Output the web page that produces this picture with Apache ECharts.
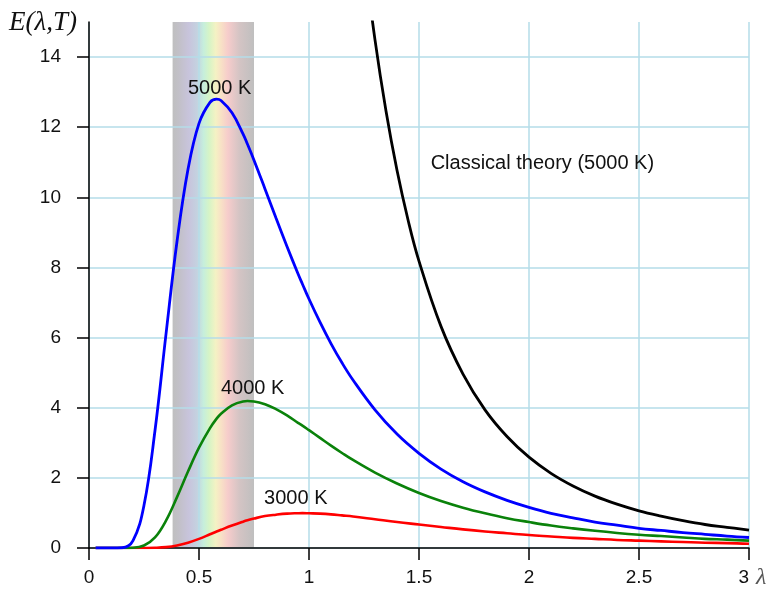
<!DOCTYPE html>
<html>
<head>
<meta charset="utf-8">
<script src="https://cdn.jsdelivr.net/npm/echarts@6/dist/echarts.min.js"></script>
<style>
  html, body { margin: 0; padding: 0; background: #fff; }
  #chart { width: 769px; height: 592px; }
</style>
</head>
<body>
<div id="chart"></div>
<script>
// wavelength (μm) and spectral radiance
const lambda = [0.03, 0.1, 0.15, 0.2, 0.25, 0.3, 0.35, 0.4, 0.45, 0.5, 0.55, 0.58, 0.6, 0.65, 0.7, 0.72, 0.75, 0.8, 0.85, 0.9, 0.95, 0.97, 1.0,
  1.05, 1.1, 1.15, 1.2, 1.3, 1.4, 1.5, 1.6, 1.7, 1.8, 1.9, 2.0, 2.1, 2.2, 2.3, 2.4, 2.5, 2.6, 2.7, 2.8, 2.9, 3.0]
const e5000 = [0, 0, 0.007, 0.21, 1.22, 3.35, 6.10, 8.74, 10.80, 12.11, 12.71, 12.80, 12.76, 12.41, 11.81, 11.52, 11.06, 10.24, 9.41, 8.60, 7.82, 7.53, 7.10,
  6.44, 5.83, 5.28, 4.79, 3.94, 3.25, 2.70, 2.25, 1.89, 1.60, 1.36, 1.16, 0.99, 0.86, 0.74, 0.65, 0.56, 0.50, 0.44, 0.39, 0.34, 0.30]
const e4000 = [0, 0, 0, 0.006, 0.07, 0.30, 0.78, 1.45, 2.18, 2.86, 3.42, 3.69, 3.83, 4.07, 4.18, 4.19, 4.18, 4.10, 3.96, 3.78, 3.57, 3.49, 3.36,
  3.14, 2.92, 2.71, 2.51, 2.15, 1.84, 1.57, 1.34, 1.15, 0.99, 0.85, 0.74, 0.64, 0.56, 0.49, 0.43, 0.38, 0.34, 0.30, 0.26, 0.24, 0.21]
const e3000 = [0, 0, 0, 0, 0.001, 0.006, 0.025, 0.072, 0.152, 0.26, 0.39, 0.47, 0.52, 0.64, 0.75, 0.79, 0.84, 0.91, 0.95, 0.98, 0.992, 0.995, 0.99,
  0.98, 0.96, 0.93, 0.90, 0.82, 0.74, 0.67, 0.60, 0.53, 0.47, 0.42, 0.37, 0.33, 0.29, 0.26, 0.23, 0.21, 0.19, 0.17, 0.15, 0.14, 0.12]

// classical (Rayleigh-Jeans) curve, 5000 K
const lambdaClassical = [1.2, 1.25, 1.3, 1.35, 1.4, 1.45, 1.5, 1.6, 1.7, 1.8, 1.9, 2.0, 2.1, 2.2, 2.3, 2.4, 2.5, 2.6, 2.7, 2.8, 2.9, 3.0]
const eClassical = [19.96, 16.95, 14.49, 12.46, 10.77, 9.36, 8.18, 6.32, 4.96, 3.94, 3.18, 2.59, 2.13, 1.77, 1.48, 1.25,
  1.06, 0.91, 0.78, 0.67, 0.59, 0.51]

// visible spectrum band and axis ticks
const visibleBand = [0.38, 0.75]
const yTicks = [0, 2, 4, 6, 8, 10, 12, 14]

const chart = echarts.init(document.getElementById('chart'))

const font = 'Liberation Sans'
const gridColor = '#b4dde8'

function pairs(xs, ys) {
  return xs.map((x, i) => [x, ys[i]])
}

function curve(name, color, xs, ys, width) {
  return {
    name: name,
    type: 'line',
    data: pairs(xs, ys),
    smooth: 0.4,
    symbol: 'none',
    clip: true,
    lineStyle: { color: color, width: width },
    silent: true,
  }
}

function note(text, x, y, align) {
  return {
    coord: [x, y],
    symbol: 'circle',
    symbolSize: 0,
    label: {
      show: true,
      position: 'inside',
      formatter: text,
      color: '#111',
      fontFamily: font,
      fontSize: 20,
      align: align || 'center',
    },
  }
}

const option = {
  animation: false,
  backgroundColor: '#fff',
  grid: { left: 89, right: 20, top: 22, bottom: 44 },
  xAxis: {
    type: 'value',
    min: 0,
    max: 3,
    interval: 0.5,
    z: 1.5,
    axisLine: { lineStyle: { color: '#000', width: 1.5 } },
    axisTick: { show: true, length: 12, lineStyle: { color: '#000', width: 1.5 } },
    axisLabel: { color: '#111', fontFamily: font, fontSize: 19, margin: 20, alignMaxLabel: 'right' },
    splitLine: { show: true, lineStyle: { color: gridColor, width: 1.5 } },
  },
  yAxis: {
    type: 'value',
    min: 0,
    max: 15,
    interval: 2,
    z: 1.5,
    axisLine: { show: true, lineStyle: { color: '#000', width: 1.5 } },
    axisTick: { show: true, length: 12, customValues: yTicks, lineStyle: { color: '#000', width: 1.5 } },
    axisLabel: {
      color: '#111',
      fontFamily: font,
      fontSize: 19,
      margin: 28,
      customValues: yTicks,
      formatter: (v) => (v > 14 ? '' : String(v)),
    },
    splitLine: {
      show: true,
      lineStyle: {
        color: [gridColor, gridColor, gridColor, gridColor, gridColor, gridColor, gridColor, gridColor, 'rgba(0,0,0,0)'],
        width: 1.5,
      },
    },
  },
  graphic: [
    {
      type: 'text',
      left: 9,
      top: 9,
      style: { text: 'E(λ,T)', font: 'italic 27px "Liberation Serif"', fill: '#111' },
    },
    {
      type: 'text',
      left: 756,
      top: 566,
      style: { text: 'λ', font: 'italic 24px "Liberation Serif"', fill: '#555' },
    },
  ],
  series: [
    {
      name: 'visible',
      type: 'line',
      data: [],
      silent: true,
      markArea: {
        silent: true,
        z: 1,
        itemStyle: {
          color: new echarts.graphic.LinearGradient(0, 0, 1, 0, [
            { offset: 0, color: '#bfbfbf' },
            { offset: 0.08, color: '#c2c0c8' },
            { offset: 0.2, color: '#c8c4dc' },
            { offset: 0.3, color: '#c4d2e0' },
            { offset: 0.38, color: '#c6eedc' },
            { offset: 0.45, color: '#d6f4c6' },
            { offset: 0.53, color: '#f4f2c4' },
            { offset: 0.6, color: '#f8e0c6' },
            { offset: 0.68, color: '#f6cccb' },
            { offset: 0.82, color: '#d4c4c4' },
            { offset: 1, color: '#bfbfbf' },
          ]),
        },
        data: [[{ xAxis: visibleBand[0] }, { xAxis: visibleBand[1] }]],
      },
    },
    curve('3000 K', '#ff0000', lambda, e3000, 2.6),
    curve('4000 K', '#0a820a', lambda, e4000, 2.6),
    curve('5000 K', '#0000ff', lambda, e5000, 2.8),
    curve('Classical theory (5000 K)', '#000000', lambdaClassical, eClassical, 2.8),
    {
      name: 'notes',
      type: 'scatter',
      data: [],
      silent: true,
      markPoint: {
        silent: true,
        data: [
          note('5000 K', 0.594, 13.09),
          note('4000 K', 0.744, 4.55),
          note('3000 K', 0.94, 1.40),
          note('Classical theory (5000 K)', 1.553, 10.97, 'left'),
        ],
      },
    },
  ],
}

chart.setOption(option)
</script>
</body>
</html>
